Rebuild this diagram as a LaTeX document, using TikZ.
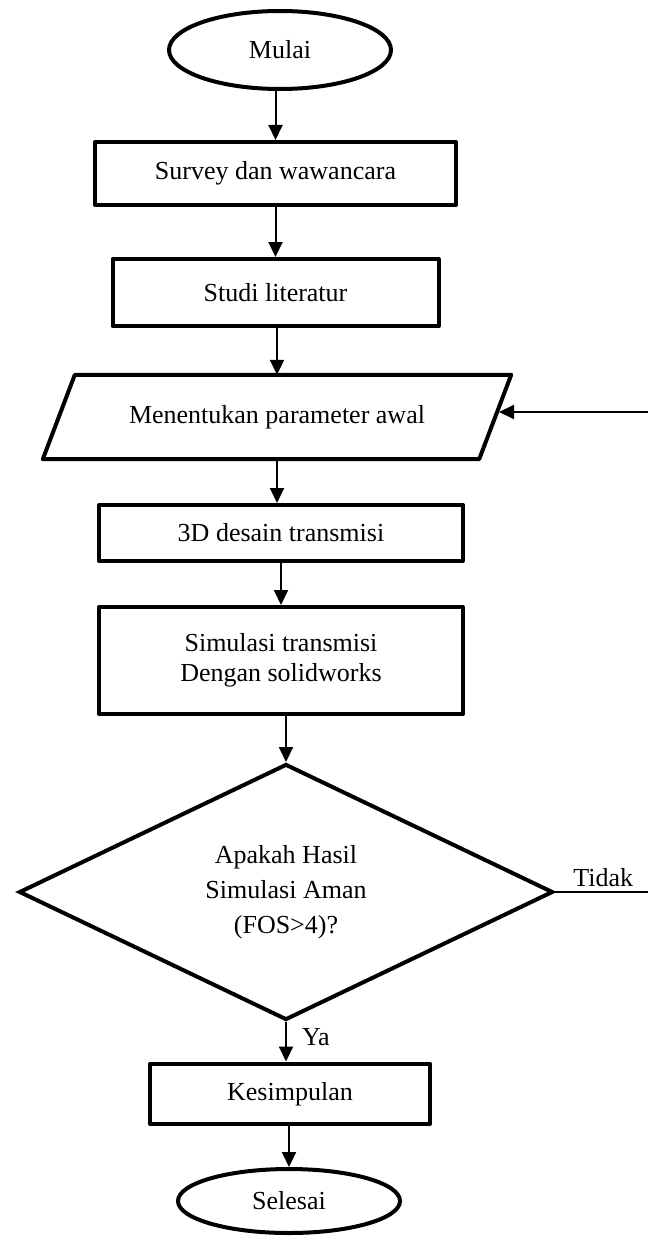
\documentclass[tikz,border=0pt]{standalone}
\usepackage{fontspec}
\setmainfont{Liberation Serif}
\usetikzlibrary{shapes.geometric,arrows.meta,calc}
\begin{document}
\begin{tikzpicture}[x=1pt,y=-1pt,
  lbl/.style={font=\fontsize{26}{30}\selectfont, inner sep=0pt},
  box/.style={lbl, draw, line width=4pt, line join=round, rectangle, align=center},
  term/.style={lbl, draw, line width=4pt, ellipse},
  txt/.style={lbl, rectangle, align=center},
  dec/.style={lbl, draw, line width=4pt, diamond, align=center, font=\fontsize{26}{35}\selectfont},
  border/.style={draw, line width=4pt, line join=round},
  conn/.style={line width=2pt, -{Triangle[length=15pt,width=14pt]}},
  plain/.style={line width=1.6pt}
]
\useasboundingbox (0,0) rectangle (648,1236);

\node[term, minimum width=222pt, minimum height=78pt] (mulai) at (280,50) {Mulai};
\node[box, minimum width=361pt, minimum height=63pt] (survey) at (275.5,173.5) {Survey dan wawancara};
\node[box, minimum width=326pt, minimum height=67pt] (studi) at (275.5,292.5) {Studi literatur};
\node[txt, minimum width=468pt, minimum height=84pt] (param) at (277,417) {Menentukan parameter awal};
\draw[border] (param.south west) -- ($(param.north west)+(32,0)$) -- (param.north east) -- ($(param.south east)+(-32,0)$) -- cycle;
\node[box, minimum width=364pt, minimum height=56pt] (desain) at (281,533) {3D desain transmisi};
\node[box, minimum width=363.5pt, minimum height=107pt] (sim) at (281,660.5) {Simulasi transmisi\\Dengan solidworks};
\node[dec, minimum width=534pt, minimum height=256pt] (dec) at (286,892) {Apakah Hasil\\Simulasi Aman\\(FOS>4)?};
\node[box, minimum width=280pt, minimum height=60.5pt] (kes) at (290,1093.75) {Kesimpulan};
\node[term, minimum width=222pt, minimum height=64pt] (sel) at (289,1201) {Selesai};

\coordinate (tidakEnd) at (648,892);
\coordinate (fbStart) at (648,412);
\coordinate (paramR) at (499,412);

\draw[conn] (survey.north |- mulai.south) -- (survey.north);
\draw[conn] (studi.north |- survey.south) -- (studi.north);
\draw[conn] (param.north |- studi.south) -- (param.north);
\draw[conn] (param.south) -- (param.south |- desain.north);
\draw[conn] (desain.south) -- (desain.south |- sim.north);
\draw[conn] (dec.north |- sim.south) -- (dec.north);
\draw[conn] (dec.south) -- node[lbl, pos=0.6, anchor=base west, xshift=15pt] {Ya} (dec.south |- kes.north);
\draw[conn] (sel.north |- kes.south) -- (sel.north);
\draw[plain] ($(dec.east)+(-2,0)$) -- node[lbl, pos=0.53, anchor=base, yshift=6pt] {Tidak} (tidakEnd);
\draw[conn] (fbStart) -- (paramR);
\end{tikzpicture}
\end{document}
